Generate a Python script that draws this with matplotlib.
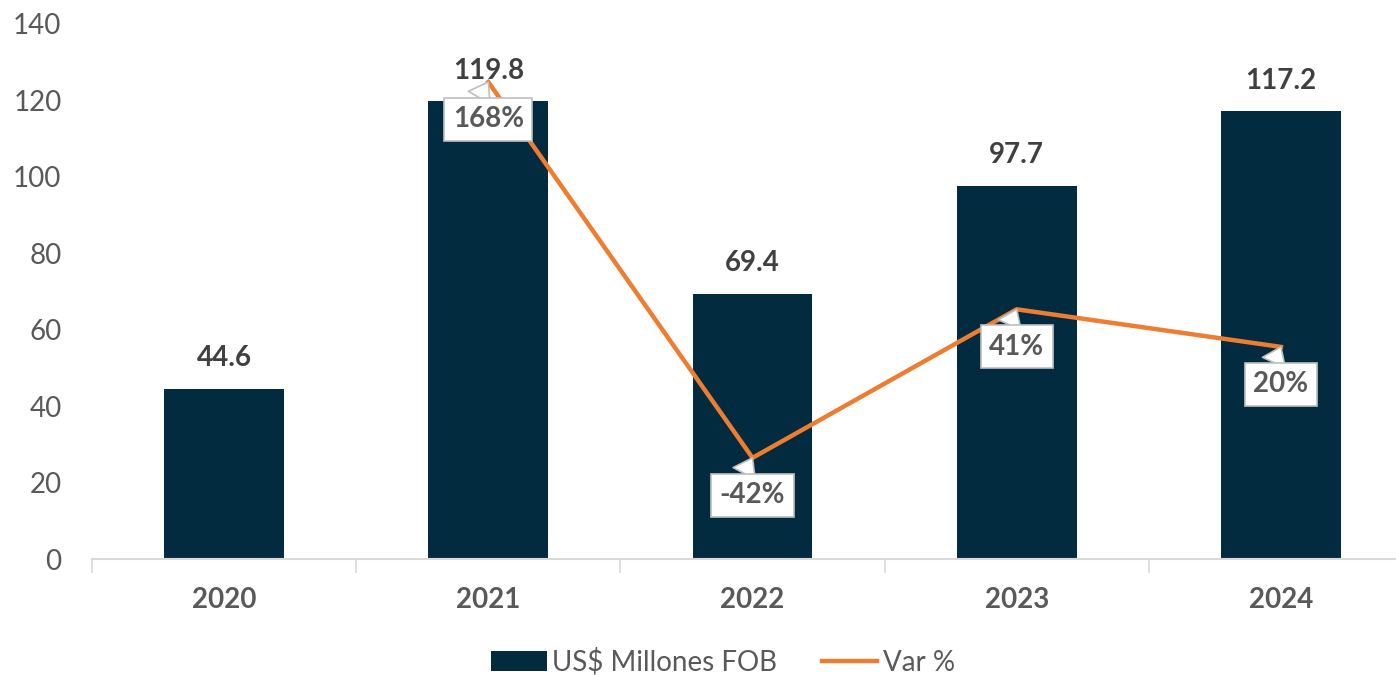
import matplotlib.pyplot as plt

plt.rcParams['font.family'] = ['Lato', 'DejaVu Sans']

years = ['2020', '2021', '2022', '2023', '2024']
fob = [44.6, 119.8, 69.4, 97.7, 117.2]
var_years = ['2021', '2022', '2023', '2024']
var_pct = [168, -42, 41, 20]

navy = '#022B40'
orange = '#ED7D31'
grey = '#595959'

fig = plt.figure(figsize=(13.96, 6.75), dpi=100)
ax = fig.add_axes([92 / 1396, 116 / 675, 1321 / 1396, 535 / 675])

x = list(range(len(years)))
ax.bar(x, fob, width=0.454, color=navy, label='US$ Millones FOB', zorder=2)
for xi, v in zip(x, fob):
    ax.annotate(f'{v:.1f}', (xi, v), xytext=(0, 22), textcoords='offset points',
                ha='center', va='center', fontsize=20, fontweight='bold', color='#404040')

ax.set_xlim(-0.5, len(years) - 0.5)
ax.set_ylim(0, 140)
ax.set_yticks(range(0, 141, 20))
ax.tick_params(axis='y', length=0, labelsize=20, labelcolor=grey, pad=22)
ax.set_xticks(x)
ax.set_xticklabels(years, fontsize=20, fontweight='bold', color=grey)
ax.tick_params(axis='x', length=0, pad=20)
ax.set_xticks([i - 0.5 for i in range(len(years) + 1)], minor=True)
ax.tick_params(axis='x', which='minor', length=10, color='#D9D9D9', width=1.2)
for s in ['top', 'right', 'left']:
    ax.spines[s].set_visible(False)
ax.spines['bottom'].set_color('#D9D9D9')
ax.spines['bottom'].set_linewidth(1.5)

ax2 = ax.twinx()
vx = [years.index(y) for y in var_years]
ax2.plot(vx, var_pct, color=orange, lw=3.2, label='Var %', zorder=3)
ax2.set_ylim(-98.5, 200.4)
ax2.axis('off')
for xi, v in zip(vx, var_pct):
    ax2.annotate(f'{v}%', (xi, v), xytext=(0, -27), textcoords='offset points',
                 ha='center', va='center', fontsize=20, fontweight='bold', color=grey,
                 bbox=dict(boxstyle='square,pad=0.3', fc='white', ec='#BFBFBF', lw=1.2),
                 arrowprops=dict(arrowstyle='wedge,tail_width=0.9', fc='white',
                                 ec='#BFBFBF', lw=1.2, shrinkA=0, shrinkB=0,
                                 relpos=(0.3, 1.0)),
                 zorder=4)

h1, l1 = ax.get_legend_handles_labels()
h2, l2 = ax2.get_legend_handles_labels()
fig.legend(h1 + h2, l1 + l2, loc='center', bbox_to_anchor=(0.518, 0.019), ncol=2,
           frameon=False, fontsize=20, labelcolor=grey, handlelength=2.0,
           handletextpad=0.2, columnspacing=1.6)

fig.savefig('out.png', dpi=100)
